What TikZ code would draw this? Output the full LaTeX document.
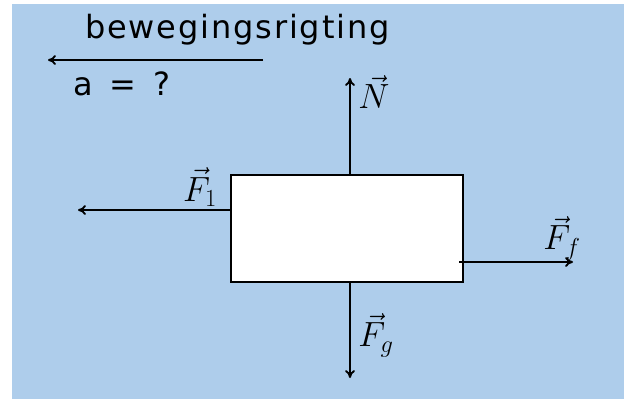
\RequirePackage{fix-cm}
\documentclass[tikz,border=0pt]{standalone}
\usepackage{fontspec}
\setmainfont{DejaVu Sans}[LetterSpace=5.8]
\usetikzlibrary{arrows.meta}
\definecolor{bgblue}{HTML}{AECDEB}
\tikzset{
  force/.style={line width=1.9pt,-{To[length=8pt,width=10pt]}},
  lbl/.style={inner sep=0pt,font=\fontsize{35}{40}\selectfont},
  txt/.style={inner sep=0pt,anchor=base west,font=\fontsize{32}{36}\selectfont},
}
\begin{document}
\begin{tikzpicture}[x=1pt,y=-1pt]
\useasboundingbox (0,0) rectangle (624,399);
\fill[bgblue] (12,4) rectangle (624,399);
\node[draw,line width=2.8pt,fill=white,minimum width=232pt,minimum height=107pt,inner sep=0pt] (blk) at (347,228.5) {};
\coordinate (nS) at (350,175);
\coordinate (nE) at (350,78);
\coordinate (gS) at (350,282);
\coordinate (gE) at (350,378);
\coordinate (fS) at (459,262);
\coordinate (fE) at (573,262);
\coordinate (oS) at (231,210);
\coordinate (oE) at (78,210);
\coordinate (mS) at (263,60);
\coordinate (mE) at (48,60);
\draw[force] (nS) -- (nE);
\draw[force] (gS) -- (gE);
\draw[force] (fS) -- (fE);
\draw[force] (oS) -- (oE);
\draw[force] (mS) -- (mE);
\node[lbl] (lN) at (374,92) {$\vec{N}$};
\node[lbl] (lg) at (376,335) {$\vec{F}_g$};
\node[lbl] (lf) at (562,238) {$\vec{F}_f$};
\node[lbl] (l1) at (200,187) {$\vec{F}_1$};
\node[txt] (tb) at (85,38) {bewegingsrigting};
\node[txt] (ta) at (73,95) {a\hspace{5pt} = \hspace{5pt}?};
\end{tikzpicture}
\end{document}
